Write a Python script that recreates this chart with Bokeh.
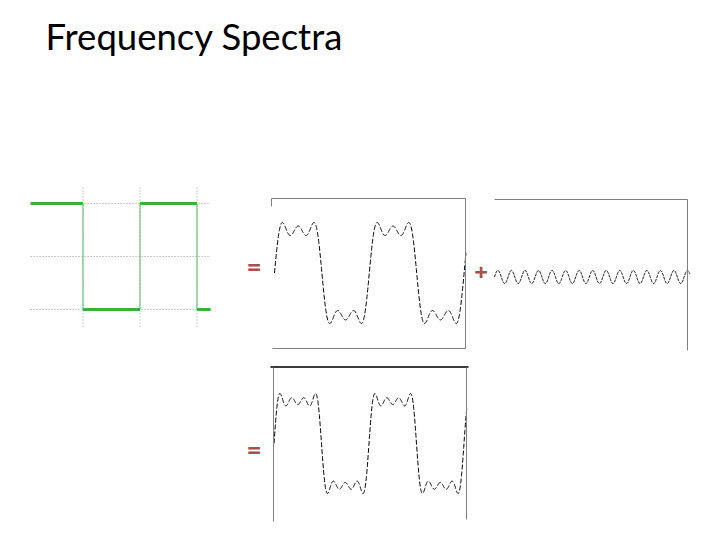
import numpy as np
from bokeh.plotting import figure
from bokeh.models import Range1d
from bokeh.core.properties import value
from bokeh.embed import file_html
from bokeh.resources import INLINE

# ---------------- data ----------------
title_text = "Frequency Spectra"
# ideal square wave: edge times (in periods) and level held between edges
square_edges = [-0.46, 0.0, 0.5, 1.0, 1.12]
square_levels = [1, -1, 1, -1]
grid_times = [0.0, 0.5, 1.0]
grid_levels = [1, 0, -1]
# Fourier components of the square wave
harmonics = [1, 3, 5, 7]
amplitudes = [1.273, 0.424, 0.255, 0.182]
sum_a_terms = 3      # 1st + 3rd + 5th
single_term = 3      # index of the 7th harmonic
sum_b_terms = 4      # 1st .. 7th
operators = ["=", "+", "="]

# ---------------- figure (1 data unit = 1 page pixel) ----------------
W, H = 704, 524
p = figure(width=W, height=H, output_backend="svg", toolbar_location=None,
           x_range=Range1d(0, W), y_range=Range1d(H, 0),
           x_axis_location=None, y_axis_location=None, min_border=0)
p.outline_line_color = None
p.xgrid.visible = False
p.ygrid.visible = False
p.background_fill_color = "white"

GRAY = "#808080"
DOT = "#9a9a9a"
OPC = "#a5504f"

p.text(x=[45], y=[35], text=[title_text], text_font=value("Lato"),
       text_font_size="36.5px", text_baseline="alphabetic", text_color="black")

# ---------- panel 1: square wave ----------
x1, per1, mid1, h1 = 82.5, 114.0, 256.0, 53.0
X1 = lambda t: x1 + np.asarray(t) * per1
Y1 = lambda v: mid1 - np.asarray(v) * h1
for gt in grid_times:
    p.line(X1([gt, gt]), [187, 326], line_color=DOT, line_dash="1 2", line_width=1)
for gl in grid_levels:
    p.line(X1([square_edges[0], square_edges[-1]]), Y1([gl, gl]),
           line_color=DOT, line_dash="1 2", line_width=1)
for i, lv in enumerate(square_levels):
    p.line(X1([square_edges[i], square_edges[i + 1]]), Y1([lv, lv]),
           line_color="#3fae3f", line_width=3)
for i in range(1, len(square_edges) - 1):
    p.line(X1([square_edges[i], square_edges[i]]),
           Y1([square_levels[i - 1], square_levels[i]]),
           line_color="#5cbd5c", line_width=1)


def partial(t, idx):
    t = np.asarray(t)
    s = np.zeros_like(t)
    for k in idx:
        s += amplitudes[k] * np.sin(2 * np.pi * harmonics[k] * t)
    return s

# ---------- panel 2: sum of 1st, 3rd, 5th ----------
x2, per2, mid2, a2 = 274.0, 94.8, 272.5, 42.5
t2 = np.linspace(0, 2.02, 800)
p.line(x2 + t2 * per2, mid2 - a2 * partial(t2, range(sum_a_terms)),
       line_color="black", line_width=1, line_dash="5 2")
p.line([271, 271, 465, 465, 272], [206, 198, 198, 348, 348], line_color=GRAY, line_width=1)

# ---------- panel 3: 7th harmonic ----------
x3, per3, mid3, a3 = 494.0, 94.8, 276.5, 36.0
t3 = np.linspace(0, 2.06, 800)
p.line(x3 + t3 * per3, mid3 - a3 * partial(t3, [single_term]),
       line_color="black", line_width=1, line_dash="3 1")
p.line([494, 687, 687], [199, 199, 350], line_color=GRAY, line_width=1)

# ---------- panel 4: sum of 1st .. 7th ----------
x4, per4, mid4, a4 = 273.5, 95.0, 443.0, 42.2
t4 = np.linspace(0, 2.03, 800)
p.line(x4 + t4 * per4, mid4 - a4 * partial(t4, range(sum_b_terms)),
       line_color="black", line_width=1, line_dash="5 2")
p.line([270, 468], [366.5, 366.5], line_color="#3a3a3a", line_width=2)
p.line([273, 273], [367, 521], line_color=GRAY, line_width=1)
p.line([466, 466], [367, 519], line_color=GRAY, line_width=1)

# ---------- operators ----------
p.text(x=[253.5, 480.5, 253.5], y=[265.5, 271.5, 448.5], text=operators,
       text_font=value("Open Sans"), text_font_style="bold", text_font_size="24px",
       text_align="center", text_baseline="middle", text_color=OPC)

open("out.html", "w").write(file_html(p, INLINE))
